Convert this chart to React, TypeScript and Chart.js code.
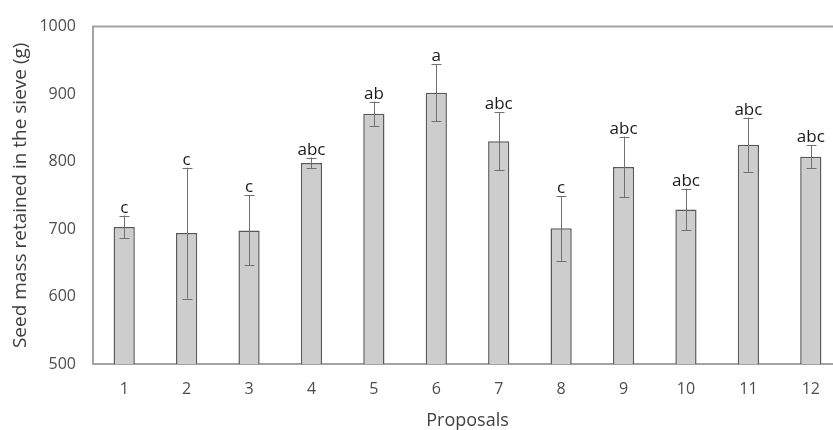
import React, { useEffect, useRef } from "react";
import { Chart, registerables } from "chart.js";

Chart.register(...registerables);

const categories = ["1", "2", "3", "4", "5", "6", "7", "8", "9", "10", "11", "12"];
const means = [703, 694, 698, 798, 871, 902, 830, 701, 792, 729, 825, 807];
const errors = [17, 97, 52, 8, 18, 42, 43, 48, 45, 31, 40, 17];
const letters = ["c", "c", "c", "abc", "ab", "a", "abc", "c", "abc", "abc", "abc", "abc"];
const yTicks = [500, 600, 700, 800, 900, 1000];

const FONT = "'Open Sans', 'DejaVu Sans', sans-serif";

const errorPlugin = {
  id: "errorBarsAndLetters",
  beforeDatasetsDraw(chart: any) {
    const { ctx, chartArea } = chart;
    ctx.save();
    ctx.strokeStyle = "#a3a3a3";
    ctx.lineWidth = 2;
    ctx.beginPath();
    ctx.moveTo(chartArea.right + 5, chartArea.top);
    ctx.lineTo(chartArea.left, chartArea.top);
    ctx.lineTo(chartArea.left, chartArea.bottom);
    ctx.lineTo(chartArea.right + 5, chartArea.bottom);
    ctx.stroke();
    ctx.restore();
  },
  afterDatasetsDraw(chart: any) {
    const { ctx } = chart;
    const yScale = chart.scales.y;
    const meta = chart.getDatasetMeta(0);
    ctx.save();
    ctx.strokeStyle = "#707070";
    ctx.lineWidth = 1;
    meta.data.forEach((bar: any, i: number) => {
      const x = Math.round(bar.x) + 0.5;
      const yTop = yScale.getPixelForValue(means[i] + errors[i]);
      const yBot = yScale.getPixelForValue(means[i] - errors[i]);
      ctx.beginPath();
      ctx.moveTo(x, yTop);
      ctx.lineTo(x, yBot);
      ctx.moveTo(x - 5, Math.round(yTop) + 0.5);
      ctx.lineTo(x + 5, Math.round(yTop) + 0.5);
      ctx.moveTo(x - 5, Math.round(yBot) + 0.5);
      ctx.lineTo(x + 5, Math.round(yBot) + 0.5);
      ctx.stroke();
      ctx.fillStyle = "#1a1a1a";
      ctx.font = `17px ${FONT}`;
      ctx.textAlign = "center";
      ctx.textBaseline = "alphabetic";
      ctx.fillText(letters[i], bar.x, yTop - 3);
    });
    ctx.restore();
  },
};

export default function App() {
  const ref = useRef<HTMLCanvasElement | null>(null);
  useEffect(() => {
    if (!ref.current) return;
    const chart = new Chart(ref.current, {
      type: "bar",
      data: {
        labels: categories,
        datasets: [
          {
            data: means,
            backgroundColor: "#cdcdcd",
            borderColor: "#595959",
            borderWidth: 1.5,
            borderSkipped: false,
            categoryPercentage: 1,
            barPercentage: 0.34,
          },
        ],
      },
      options: {
        responsive: false,
        animation: false,
        layout: { padding: { top: 21, right: 0, bottom: 0, left: 0 } },
        plugins: { legend: { display: false }, tooltip: { enabled: false } },
        scales: {
          x: {
            grid: { display: false, drawTicks: false },
            border: { display: false },
            ticks: { color: "#4d4d4d", font: { family: FONT, size: 16 }, padding: 16 },
            title: {
              display: true,
              text: "Proposals",
              color: "#404040",
              font: { family: FONT, size: 18 },
              padding: { top: 0, bottom: 0 },
            },
            afterFit: (s: any) => {
              s.height = 68;
            },
          },
          y: {
            min: 500,
            max: 1000,
            grid: { display: false, drawTicks: false },
            border: { display: false },
            afterBuildTicks: (s: any) => {
              s.ticks = yTicks.map((v) => ({ value: v }));
            },
            ticks: {
              color: "#4d4d4d",
              font: { family: FONT, size: 16 },
              padding: 17,
              callback: (v: any) => String(v),
            },
            title: {
              display: true,
              text: "Seed mass retained in the sieve (g)",
              color: "#404040",
              font: { family: FONT, size: 19 },
              padding: { top: 9, bottom: 0 },
            },
            afterFit: (s: any) => {
              s.width = 93;
            },
          },
        },
      },
      plugins: [errorPlugin],
    });
    return () => chart.destroy();
  }, []);
  return (
    <div
      style={{
        position: "fixed",
        left: 0,
        top: 0,
        width: 833,
        height: 430,
        overflow: "hidden",
        background: "#fff",
      }}
    >
      <canvas ref={ref} width={842} height={432} style={{ display: "block" }} />
    </div>
  );
}
